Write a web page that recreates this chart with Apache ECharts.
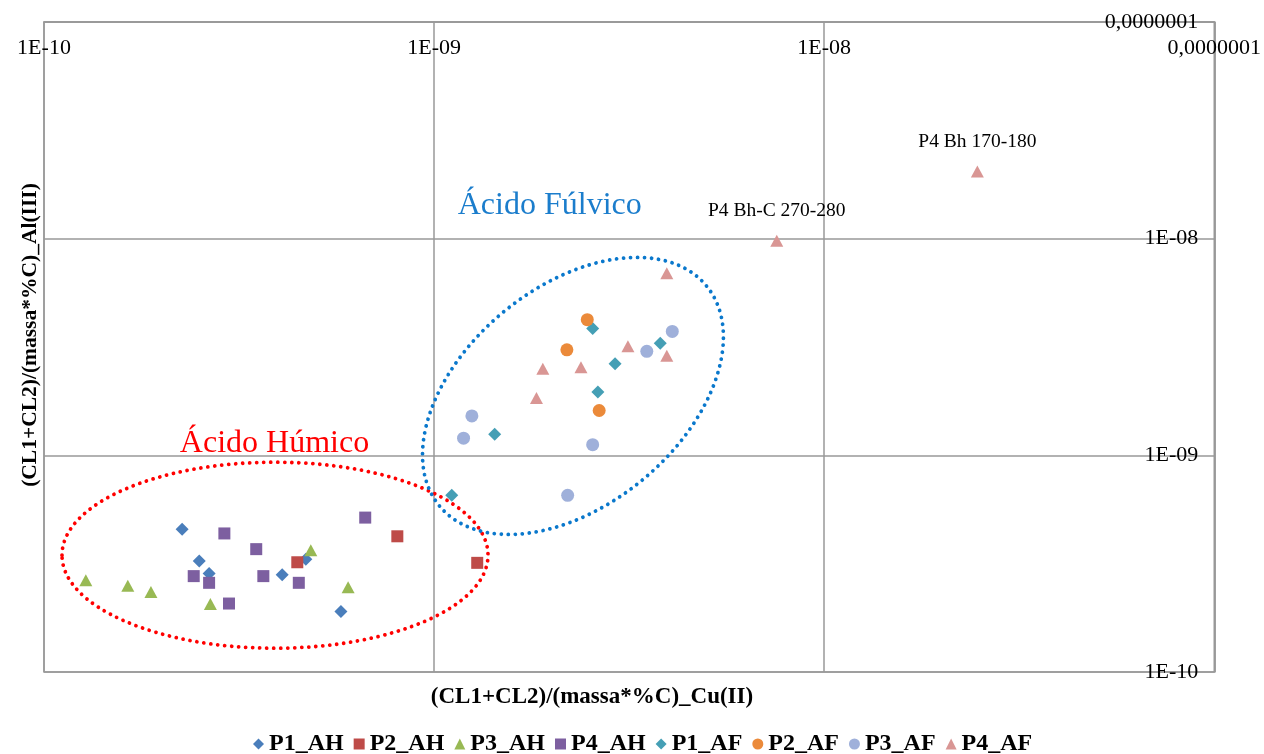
<!DOCTYPE html>
<html>
<head>
<meta charset="utf-8">
<script src="https://cdn.jsdelivr.net/npm/echarts@6/dist/echarts.min.js"></script>
<style>
  html, body { margin: 0; padding: 0; background: #fff; }
  #chart { width: 1264px; height: 754px; }
</style>
</head>
<body>
<div id="chart"></div>
<script>
// Tick labels for the two log axes (one per decade, 1E-10 .. 1E-07)
const xTickLabels = ['1E-10', '1E-09', '1E-08', '0,0000001'];
const yTickLabels = ['1E-10', '1E-09', '1E-08', '0,0000001'];

const seriesNames = ['P1_AH', 'P2_AH', 'P3_AH', 'P4_AH', 'P1_AF', 'P2_AF', 'P3_AF', 'P4_AF'];

// [Cu(II) value, Al(III) value] per sample
const p1AH = [[2.26e-10, 4.56e-10], [2.50e-10, 3.25e-10], [2.65e-10, 2.85e-10], [4.08e-10, 2.81e-10], [4.69e-10, 3.31e-10], [5.77e-10, 1.90e-10]];
const p2AH = [[4.46e-10, 3.21e-10], [8.05e-10, 4.23e-10], [1.29e-9, 3.19e-10]];
const p3AH = [[1.28e-10, 2.65e-10], [1.64e-10, 2.50e-10], [1.88e-10, 2.34e-10], [2.67e-10, 2.06e-10], [4.83e-10, 3.65e-10], [6.02e-10, 2.46e-10]];
const p4AH = [[2.90e-10, 4.36e-10], [3.50e-10, 3.69e-10], [2.42e-10, 2.77e-10], [2.65e-10, 2.58e-10], [3.65e-10, 2.77e-10], [4.50e-10, 2.58e-10], [2.98e-10, 2.07e-10], [6.66e-10, 5.16e-10]];
const p1AF = [[2.55e-9, 3.85e-9], [3.80e-9, 3.29e-9], [2.91e-9, 2.65e-9], [2.63e-9, 1.96e-9], [1.43e-9, 1.25e-9], [1.11e-9, 6.54e-10]];
const p2AF = [[2.47e-9, 4.23e-9], [2.19e-9, 3.07e-9], [2.65e-9, 1.61e-9]];
const p3AF = [[4.08e-9, 3.73e-9], [3.51e-9, 3.02e-9], [1.25e-9, 1.52e-9], [1.19e-9, 1.20e-9], [2.55e-9, 1.12e-9], [2.20e-9, 6.54e-10]];
const p4AF = [[3.95e-9, 6.92e-9], [3.14e-9, 3.19e-9], [3.95e-9, 2.88e-9], [1.90e-9, 2.51e-9], [2.38e-9, 2.55e-9], [1.83e-9, 1.84e-9], [7.56e-9, 9.79e-9], [2.47e-8, 2.04e-8]];
const p4AFLabels = ['', '', '', '', '', '', 'P4 Bh-C 270-280', 'P4 Bh 170-180'];

// Group annotations: ellipse centres and title anchors (left edge) in data space
const humicCentre = [3.91e-10, 3.46e-10];
const fulvicCentre = [2.27e-9, 1.88e-9];
const humicTitleAnchor = [2.23e-10, 1.136e-9];
const fulvicTitleAnchor = [1.15e-9, 1.42e-8];

const SERIF = '"Liberation Serif", "Times New Roman", serif';

const styles = {
  P1_AH: { symbol: 'diamond', size: 13, color: '#4A7EBB' },
  P2_AH: { symbol: 'rect', size: 12, color: '#BE4B48' },
  P3_AH: { symbol: 'triangle', size: [13, 12], color: '#98B954' },
  P4_AH: { symbol: 'rect', size: 12, color: '#7D5FA0' },
  P1_AF: { symbol: 'diamond', size: 13, color: '#459FB5' },
  P2_AF: { symbol: 'circle', size: 13, color: '#EB8A3A' },
  P3_AF: { symbol: 'circle', size: 13, color: '#9FB0DA' },
  P4_AF: { symbol: 'triangle', size: [13, 12], color: '#D99694' }
};

const seriesData = [p1AH, p2AH, p3AH, p4AH, p1AF, p2AF, p3AF, p4AF];

function tickLabel(labels) {
  return function (v) {
    const i = Math.round(Math.log10(v)) + 10;
    return labels[i] !== undefined ? labels[i] : '';
  };
}

const series = seriesNames.map(function (name, k) {
  const st = styles[name];
  let data = seriesData[k];
  if (name === 'P4_AF') {
    data = data.map(function (d, i) {
      if (!p4AFLabels[i]) return d;
      return {
        value: d,
        label: {
          show: true, position: 'top', distance: 14,
          formatter: p4AFLabels[i],
          fontFamily: SERIF, fontSize: 19.5, color: '#000'
        }
      };
    });
  }
  return {
    name: name,
    type: 'scatter',
    symbol: st.symbol,
    symbolSize: st.size,
    itemStyle: { color: st.color, opacity: 1 },
    emphasis: { disabled: true },
    data: data
  };
});

const chart = echarts.init(document.getElementById('chart'));

chart.setOption({
  animation: false,
  backgroundColor: '#fff',
  grid: {
    left: 44, right: 49, top: 22, bottom: 82,
    show: true, borderColor: '#999', borderWidth: 1.5
  },
  legend: {
    data: seriesNames,
    left: 248, top: 727,
    itemWidth: 11, itemHeight: 11, itemGap: 10,
    textStyle: { fontFamily: SERIF, fontSize: 24, fontWeight: 'bold', color: '#000' }
  },
  xAxis: {
    type: 'log', logBase: 10, min: 1e-10, max: 1e-7,
    position: 'top',
    axisLine: { show: true, lineStyle: { color: '#999', width: 1.5 } },
    axisTick: { show: false },
    splitLine: { show: true, lineStyle: { color: '#999', width: 1.5 } },
    minorSplitLine: { show: false },
    axisLabel: {
      inside: true, margin: 15,
      showMinLabel: true, showMaxLabel: true, hideOverlap: false,
      fontFamily: SERIF, fontSize: 22, color: '#000',
      formatter: tickLabel(xTickLabels)
    }
  },
  yAxis: {
    type: 'log', logBase: 10, min: 1e-10, max: 1e-7,
    position: 'right',
    axisLine: { show: true, lineStyle: { color: '#999', width: 1.5 } },
    axisTick: { show: false },
    splitLine: { show: true, lineStyle: { color: '#999', width: 1.5 } },
    axisLabel: {
      inside: true, margin: 16,
      showMinLabel: true, showMaxLabel: true, hideOverlap: false,
      fontFamily: SERIF, fontSize: 22, color: '#000',
      formatter: tickLabel(yTickLabels)
    }
  },
  series: series
});

// Annotations: dotted group ellipses, group titles and axis titles
function px(p) { return chart.convertToPixel({ gridIndex: 0 }, p); }
const hc = px(humicCentre);
const fc = px(fulvicCentre);
const ht = px(humicTitleAnchor);
const ft = px(fulvicTitleAnchor);

const dotted = function (color) {
  return { fill: null, stroke: color, lineWidth: 3.8, lineDash: [0.01, 7], lineCap: 'round' };
};

chart.setOption({
  graphic: [
    {
      type: 'ellipse', z: 1,
      shape: { cx: hc[0], cy: hc[1], rx: 213, ry: 93 },
      style: dotted('#FF0000'), silent: true
    },
    {
      type: 'ellipse', z: 1,
      originX: fc[0], originY: fc[1],
      rotation: 39.5 * Math.PI / 180,
      shape: { cx: fc[0], cy: fc[1], rx: 173, ry: 109 },
      style: dotted('#0A78CC'), silent: true
    },
    {
      type: 'text', z: 5,
      x: ht[0], y: ht[1],
      style: {
        text: 'Ácido Húmico', fill: '#FF0000',
        font: '32px ' + SERIF, textVerticalAlign: 'middle'
      }
    },
    {
      type: 'text', z: 5,
      x: ft[0], y: ft[1],
      style: {
        text: 'Ácido Fúlvico', fill: '#1B7DCC',
        font: '32px ' + SERIF, textVerticalAlign: 'middle'
      }
    },
    {
      type: 'text', z: 5,
      x: 592, y: 697,
      style: {
        text: '(CL1+CL2)/(massa*%C)_Cu(II)', fill: '#000',
        font: 'bold 23px ' + SERIF, textAlign: 'center', textVerticalAlign: 'middle'
      }
    },
    {
      type: 'text', z: 5,
      x: 30, y: 335, rotation: Math.PI / 2,
      style: {
        text: '(CL1+CL2)/(massa*%C)_Al(III)', fill: '#000',
        font: 'bold 21.5px ' + SERIF, textAlign: 'center', textVerticalAlign: 'middle'
      }
    }
  ]
});
</script>
</body>
</html>
